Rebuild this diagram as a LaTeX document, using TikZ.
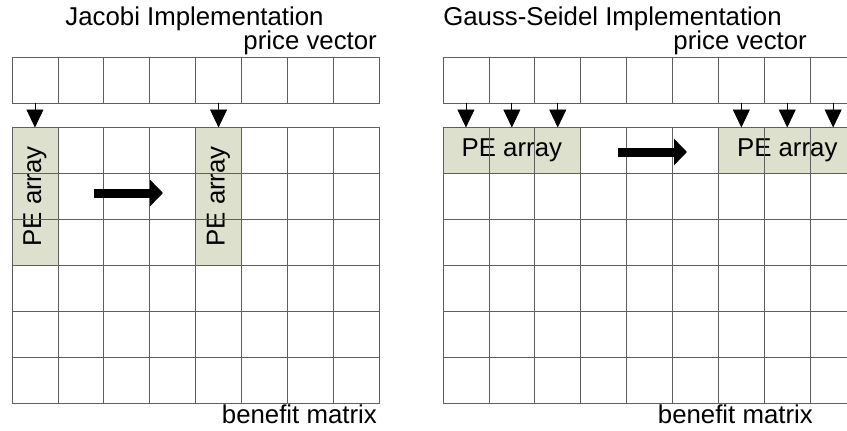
\documentclass[tikz,border=0pt]{standalone}
\usepackage{graphicx}
\usepackage{fontspec}
\setmainfont{Liberation Sans}
\usetikzlibrary{arrows.meta,positioning}
\definecolor{pefill}{RGB}{221,224,204}
\definecolor{gridgray}{RGB}{95,95,95}

\begin{document}
\begin{tikzpicture}[x=1pt, y=-1pt, font=\fontsize{25.8}{30}\selectfont,
      cell/.style={rectangle, draw=gridgray, line width=0.8pt, inner sep=0pt, outer sep=0pt,
                   minimum width=45.9pt, minimum height=45.9pt},
      pe/.style={rectangle, draw=gridgray, line width=0.8pt, fill=pefill, inner sep=0pt, outer sep=0pt},
      lbl/.style={inner sep=0pt},
      feed/.style={-{Triangle[length=18pt,width=17pt]}, line width=0.8pt},
      movearrow/.style={-{Triangle[length=13pt,width=26pt]}, line width=9pt}]
    \useasboundingbox (0,0) rectangle (847,431);
    \clip (0,0) rectangle (847,431);

    % Jacobi
    \node[pe, minimum width=45.9pt, minimum height=137.7pt] (jpe1) at (34.95,196.35) {\rotatebox{90}{PE array}};
    \node[pe, minimum width=45.9pt, minimum height=137.7pt] (jpe2) at (218.55,196.35) {\rotatebox{90}{PE array}};
    \foreach \i in {1,...,8} {
      \node[cell] (jp\i) at ({12+45.9*(\i-0.5)},80) {};
      \foreach \r in {1,...,6}
        \node[cell] (jm\r-\i) at ({12+45.9*(\i-0.5)},{127.5+45.9*(\r-0.5)}) {};
    }
    \draw[feed] (jp1.south) -- (jpe1.north);
    \draw[feed] (jp5.south) -- (jpe2.north);
    \coordinate (jfrom) at (94,193);
    \coordinate (jto) at (163,193);
    \draw[movearrow] (jfrom) -- (jto);
    \node[lbl, anchor=base] (jtitle) at (194.5,25) {Jacobi Implementation};
    \node[lbl, anchor=base east] (jprice) at (377,49.5) {price vector};
    \node[lbl, anchor=base east] (jbenefit) at (377,423) {benefit matrix};

    % Gauss-Seidel
    \node[pe, minimum width=137.7pt, minimum height=45.9pt] (gpe1) at (511.85,150.45) {PE array};
    \node[pe, minimum width=137.7pt, minimum height=45.9pt] (gpe2) at (787.25,150.45) {PE array};
    \foreach \i in {1,...,9} {
      \node[cell] (gp\i) at ({443+45.9*(\i-0.5)},80) {};
      \foreach \r in {1,...,6}
        \node[cell] (gm\r-\i) at ({443+45.9*(\i-0.5)},{127.5+45.9*(\r-0.5)}) {};
    }
    \foreach \i in {1,2,3}
      \draw[feed] (gp\i.south) -- (gp\i.south |- gpe1.north);
    \foreach \i in {7,8,9}
      \draw[feed] (gp\i.south) -- (gp\i.south |- gpe2.north);
    \coordinate (gfrom) at (618,152);
    \coordinate (gto) at (687,152);
    \draw[movearrow] (gfrom) -- (gto);
    \node[lbl, anchor=base] (gtitle) at (612.5,25) {Gauss-Seidel Implementation};
    \node[lbl, anchor=base east] (gprice) at (807,49.5) {price vector};
    \node[lbl, anchor=base east] (gbenefit) at (813,423) {benefit matrix};
  \end{tikzpicture}
\end{document}
